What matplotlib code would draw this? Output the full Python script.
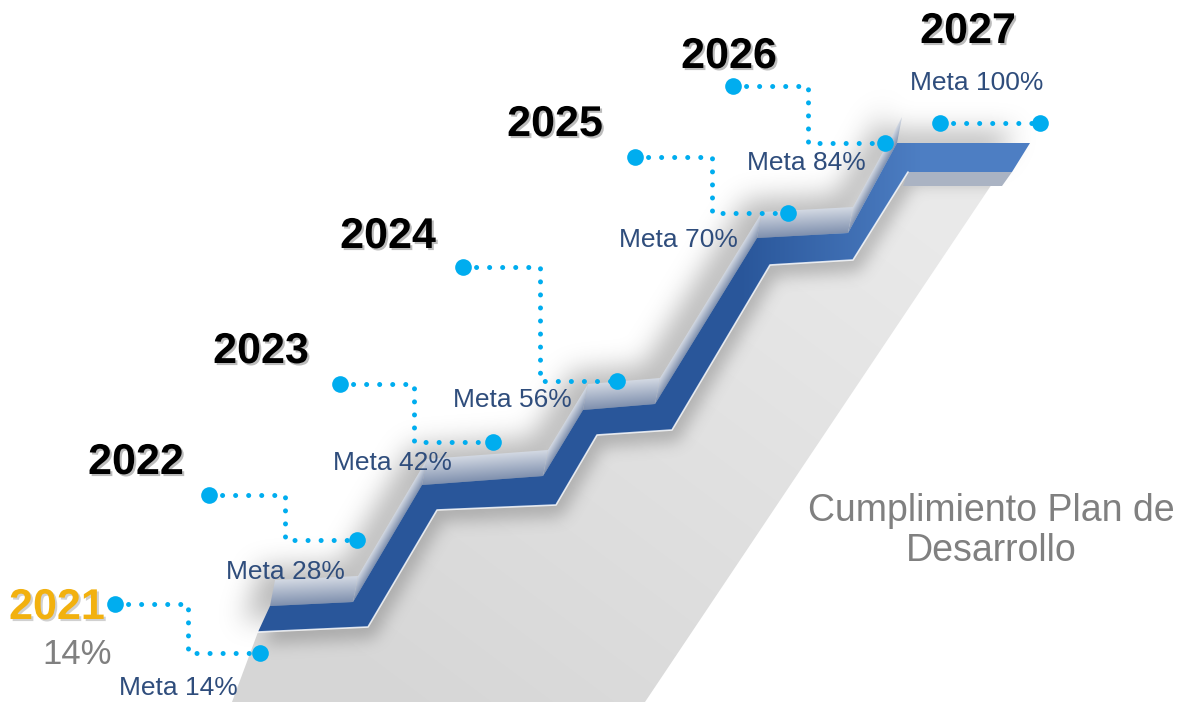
import numpy as np
import matplotlib
matplotlib.use("Agg")
import matplotlib.pyplot as plt
from matplotlib.path import Path
from matplotlib.patches import Polygon
import matplotlib.patheffects as pe

# ---------------- data ----------------
years = [2021, 2022, 2023, 2024, 2025, 2026, 2027]
metas = [14, 28, 42, 56, 70, 84, 100]
current_year = 2021
current_value = 14
title_lines = ["Cumplimiento Plan de", "Desarrollo"]

# ---------------- layout (pixel space of the 1183x702 canvas) ----------------
W, H = 1183, 702
year_label_xy = [(57, 608), (136, 463), (261, 352), (388, 237), (555, 125), (729, 57), (968, 32)]
current_label_xy = (77, 655)
conn_start = [(115, 604), (209, 495), (340, 384), (463, 267), (635, 157), (733, 86), (940, 123)]
conn_end_y = [653, 540, 442, 381, 213, 143, 123]
conn_half = [73, 76, 74, 77, 77, 75, 50]
conn_full = [145, 148, 153, 154, 153, 152, 100]
meta_label_xy = [(178, 688), (285, 572), (392, 463), (512, 400), (678, 240), (806, 163), (977, 83)]
title_xy = (991, 531)

# decorative staircase outline
stair_top = [(270, 606), (353, 602), (422, 485), (543, 476), (583, 410), (655, 404),
             (757, 238), (848, 233), (897, 143), (1030, 143)]
stair_bot = [(258, 632), (368, 627), (437, 510), (556, 505), (597, 435), (672, 430),
             (770, 265), (853, 260), (908, 172), (1012, 172)]
floor_extra = [(232, 702)], [(1000, 172), (645, 702)]
extrude = np.array([5.0, -26.0])

# ---------------- styles ----------------
C_DOT = "#00adef"
C_META = "#2f4d7c"
C_GOLD = "#f2b10f"
C_GRAY_TXT = "#808080"

# ---------------- helpers ----------------
yy, xx = np.mgrid[0:H, 0:W].astype(float) + 0.5
PTS = np.column_stack([xx.ravel(), yy.ravel()])


def mask(poly):
    return Path(np.asarray(poly, float)).contains_points(PTS).reshape(H, W).astype(float)


def box(a, r, axis):
    if axis == 1:
        a = a.T
    pad = np.pad(a, ((r + 1, r), (0, 0)), mode="edge")
    c = np.cumsum(pad, axis=0)
    out = (c[2 * r + 1:] - c[:-2 * r - 1]) / (2 * r + 1)
    return out.T if axis == 1 else out


def blur(a, r):
    for _ in range(3):
        a = box(a, r, 0)
        a = box(a, r, 1)
    return a


def hex2rgb(h):
    h = h.lstrip("#")
    return np.array([int(h[i:i + 2], 16) / 255 for i in (0, 2, 4)])


def grad_img(t, c1, c2):
    t = np.clip(t, 0, 1)[..., None]
    return (1 - t) * hex2rgb(c1) + t * hex2rgb(c2)


def shift(a, dx, dy):
    return np.roll(np.roll(a, dy, axis=0), dx, axis=1)


# ---------------- figure ----------------
fig = plt.figure(figsize=(W / 100, H / 100), dpi=100)
ax = fig.add_axes([0, 0, 1, 1])
ax.set_xlim(0, W)
ax.set_ylim(H, 0)
ax.axis("off")
EXT = (0, W, H, 0)

band_poly = stair_top + stair_bot[::-1]
faces = []
for p, q in zip(stair_top[:-2], stair_top[1:-1]):
    p, q = np.array(p, float), np.array(q, float)
    faces.append([p, q, q + extrude, p + extrude])

# soft shadow cast up-left of the staircase
m_all = mask(band_poly)
for f in faces:
    m_all = np.maximum(m_all, mask(f))
sh = blur(shift(m_all, -16, -12), 12)
rgba = np.zeros((H, W, 4))
rgba[..., :3] = 0.55
rgba[..., 3] = np.clip(sh, 0, 1) * 0.6
ax.imshow(rgba, extent=EXT, zorder=1, interpolation="bilinear")

# floor
floor_poly = floor_extra[0] + stair_bot + floor_extra[1]
t_floor = ((xx - 300) * 0.6 - (yy - 650) * 0.8) / 700
img = grad_img(t_floor, "#d6d6d6", "#e9e9e9")
fp = Polygon(floor_poly, closed=True, facecolor="none", edgecolor="none")
ax.add_patch(fp)
im = ax.imshow(img, extent=EXT, zorder=2, interpolation="bilinear")
im.set_clip_path(fp)

# shadow of band on floor
m_band = mask(band_poly)
sh2 = blur(shift(m_band, 6, 12), 7)
rgba2 = np.zeros((H, W, 4))
rgba2[..., :3] = 0.35
rgba2[..., 3] = np.clip(sh2, 0, 1) * 0.35
im2 = ax.imshow(rgba2, extent=EXT, zorder=3, interpolation="bilinear")
im2.set_clip_path(fp)

# light extruded faces
for f in faces:
    p, q, q2, p2 = f
    d = q - p
    cr = d[0] * extrude[1] - d[1] * extrude[0]
    t = (d[0] * (yy - p[1]) - d[1] * (xx - p[0])) / cr
    img = grad_img(t, "#7f90ae", "#d3d9e3")
    pp = Polygon(np.array(f), closed=True, facecolor="none", edgecolor="none")
    ax.add_patch(pp)
    imf = ax.imshow(img, extent=EXT, zorder=4, interpolation="bilinear")
    imf.set_clip_path(pp)

# underside strip of the top step
under = [stair_bot[-2], stair_bot[-1], (1002, 186), (903, 186)]
ax.add_patch(Polygon(under, closed=True, facecolor="#aab3c3", edgecolor="none", zorder=4))

# dark blue band
t_band = (xx - 740) / 180
img = grad_img(t_band, "#29569a", "#4d7ec3")
bp = Polygon(band_poly, closed=True, facecolor="none", edgecolor="none")
ax.add_patch(bp)
imb = ax.imshow(img, extent=EXT, zorder=5, interpolation="bilinear")
imb.set_clip_path(bp)
bx, by = zip(*stair_bot[:-1])
ax.plot(bx, by, color="white", lw=1.2, alpha=0.8, zorder=6, solid_capstyle="round")

# ---------------- connectors, dots, labels ----------------
for i, (yr, m) in enumerate(zip(years, metas)):
    sx, sy = conn_start[i]
    cx = sx + conn_half[i]
    ex = sx + conn_full[i]
    ey = conn_end_y[i]
    ax.plot([sx, cx, cx, ex], [sy, sy, ey, ey], color=C_DOT, lw=3.6,
            linestyle=(0, (0.01, 2.6)), dash_capstyle="round", zorder=8)
    ax.plot([sx, ex], [sy, ey], "o", color=C_DOT, ms=12, mec="none", zorder=9)

    lx, ly = year_label_xy[i]
    col = C_GOLD if yr == current_year else "black"
    ax.text(lx, ly, str(yr), ha="center", va="center", fontsize=31, fontweight="bold",
            family="Liberation Sans", color=col, zorder=10,
            path_effects=[pe.withSimplePatchShadow(offset=(1.5, -1.5), shadow_rgbFace="#7a7a7a",
                                                   alpha=0.35 if yr == current_year else 0.5)])
    mx, my = meta_label_xy[i]
    ax.text(mx, my, f"Meta {m}%", ha="center", va="center", fontsize=19,
            family="Liberation Sans", color=C_META, zorder=10)

ax.text(current_label_xy[0], current_label_xy[1], f"{current_value}%", ha="center", va="center",
        fontsize=25, family="Liberation Sans", color=C_GRAY_TXT, zorder=10)

ax.text(title_xy[0], title_xy[1], "\n".join(title_lines), ha="center", va="center",
        fontsize=27, family="Liberation Sans", color=C_GRAY_TXT, linespacing=1.15, zorder=10)

fig.savefig("out.png", dpi=100)
